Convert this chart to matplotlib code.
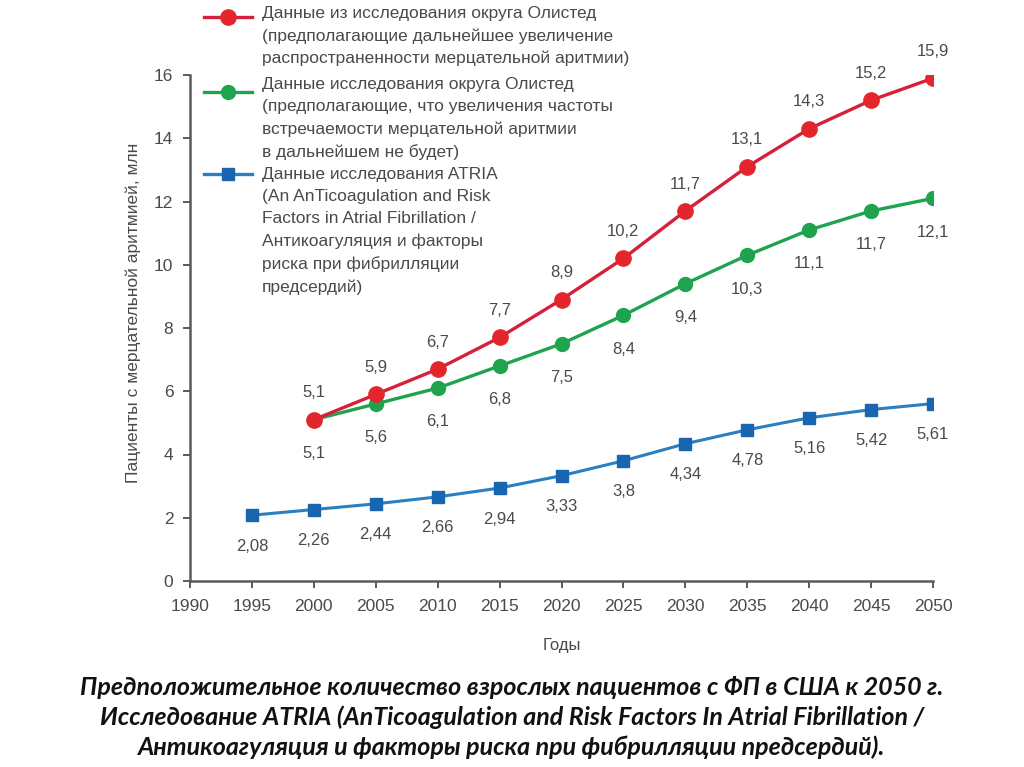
import matplotlib
matplotlib.use("Agg")
import matplotlib.pyplot as plt
from matplotlib.lines import Line2D
from matplotlib import font_manager

years_red = [2000, 2005, 2010, 2015, 2020, 2025, 2030, 2035, 2040, 2045, 2050]
red_vals = [5.1, 5.9, 6.7, 7.7, 8.9, 10.2, 11.7, 13.1, 14.3, 15.2, 15.9]
red_labels = ["5,1", "5,9", "6,7", "7,7", "8,9", "10,2", "11,7", "13,1", "14,3", "15,2", "15,9"]

years_green = [2000, 2005, 2010, 2015, 2020, 2025, 2030, 2035, 2040, 2045, 2050]
green_vals = [5.1, 5.6, 6.1, 6.8, 7.5, 8.4, 9.4, 10.3, 11.1, 11.7, 12.1]
green_labels = ["5,1", "5,6", "6,1", "6,8", "7,5", "8,4", "9,4", "10,3", "11,1", "11,7", "12,1"]

years_blue = [1995, 2000, 2005, 2010, 2015, 2020, 2025, 2030, 2035, 2040, 2045, 2050]
blue_vals = [2.08, 2.26, 2.44, 2.66, 2.94, 3.33, 3.8, 4.34, 4.78, 5.16, 5.42, 5.61]
blue_labels = ["2,08", "2,26", "2,44", "2,66", "2,94", "3,33", "3,8", "4,34", "4,78", "5,16", "5,42", "5,61"]

x_ticks = list(range(1990, 2051, 5))
y_ticks = [0, 2, 4, 6, 8, 10, 12, 14, 16]

legend_texts = [
    "Данные из исследования округа Олистед\n(предполагающие дальнейшее увеличение\nраспространенности мерцательной аритмии)",
    "Данные исследования округа Олистед\n(предполагающие, что увеличения частоты\nвстречаемости мерцательной аритмии\nв дальнейшем не будет)",
    "Данные исследования ATRIA\n(An AnTicoagulation and Risk\nFactors in Atrial Fibrillation /\nАнтикоагуляция и факторы\nриска при фибрилляции\nпредсердий)",
]

caption = ("Предположительное количество взрослых пациентов с ФП в США к 2050 г.\n"
           "Исследование ATRIA (AnTicoagulation and Risk Factors In Atrial Fibrillation /\n"
           "Антикоагуляция и факторы риска при фибрилляции предсердий).")

# pick a condensed font when one is installed
names = {f.name for f in font_manager.fontManager.ttflist}
if "Liberation Sans Narrow" in names:
    FAM = ["Liberation Sans Narrow", "DejaVu Sans"]
    k = 1.18
else:
    FAM = ["Liberation Sans", "DejaVu Sans"]
    k = 1.0

TXT = "#4a4a4a"
RED = "#e3262c"
RED_LINE = "#d42038"
GREEN = "#1fa34f"
BLUE = "#1865b0"
BLUE_LINE = "#2a7fc0"

plt.rcParams["font.family"] = FAM

fig = plt.figure(figsize=(10.24, 7.67), dpi=100)
ax = fig.add_axes([190 / 1024, 1 - 581 / 767, 743 / 1024, 506 / 767])

ax.plot(years_blue, blue_vals, color=BLUE_LINE, lw=2.2, marker="s", ms=9,
        mfc=BLUE, mec=BLUE, zorder=3)
ax.plot(years_green, green_vals, color=GREEN, lw=2.4, marker="o", ms=10,
        mfc=GREEN, mec=GREEN, zorder=3)
ax.plot(years_red, red_vals, color=RED_LINE, lw=2.4, marker="o", ms=11,
        mfc=RED, mec=RED, zorder=4)

lab_fs = 12 * k
for x, y, t in zip(years_red, red_vals, red_labels):
    ax.annotate(t, (x, y), xytext=(0, 14), textcoords="offset points",
                ha="center", va="bottom", fontsize=lab_fs, color=TXT)
for x, y, t in zip(years_green, green_vals, green_labels):
    ax.annotate(t, (x, y), xytext=(0, -19), textcoords="offset points",
                ha="center", va="top", fontsize=lab_fs, color=TXT)
for x, y, t in zip(years_blue, blue_vals, blue_labels):
    ax.annotate(t, (x, y), xytext=(0, -17), textcoords="offset points",
                ha="center", va="top", fontsize=lab_fs, color=TXT)

ax.set_xlim(1990, 2050)
ax.set_ylim(0, 16)
ax.set_xticks(x_ticks)
ax.set_yticks(y_ticks)
ax.set_xticklabels([str(v) for v in x_ticks])
ax.set_yticklabels([str(v) for v in y_ticks])
for s in ["top", "right"]:
    ax.spines[s].set_visible(False)
for s in ["left", "bottom"]:
    ax.spines[s].set_color("#5a5a5a")
    ax.spines[s].set_linewidth(1.8)
ax.tick_params(axis="both", colors="#5a5a5a", labelcolor=TXT, labelsize=12.5 * k,
               length=5, width=1.4, direction="out")
ax.tick_params(axis="x", pad=8)
ax.tick_params(axis="y", pad=7)
ax.set_xlabel("Годы", fontsize=12 * k, color=TXT, labelpad=17)
ax.set_ylabel("Пациенты с мерцательной аритмией, млн", fontsize=12.5 * k, color=TXT)
ax.yaxis.set_label_coords(-0.066, 0.53)

# legend (manual, handle aligned with the first text line)
handles = [
    (RED_LINE, RED, "o", 11, 17),
    (GREEN, GREEN, "o", 10, 92),
    (BLUE_LINE, BLUE, "s", 9, 174),
]
first_line_centers = [12, 83, 173]
leg_fs = 12.5 * k
for (lc, mc, mk, ms, yy), txt, cy in zip(handles, legend_texts, first_line_centers):
    fy = 1 - yy / 767
    fig.add_artist(Line2D([204 / 1024, 252 / 1024], [fy, fy], color=lc, lw=2.4,
                          transform=fig.transFigure))
    fig.add_artist(Line2D([228 / 1024], [fy], marker=mk, ms=ms, color=mc,
                          mfc=mc, mec=mc, lw=0, transform=fig.transFigure))
    fig.text(262 / 1024, 1 - (cy - 6) / 767, txt, ha="left", va="top",
             fontsize=leg_fs, color=TXT, linespacing=1.58)

fig.text(0.5, 1 - 676 / 767, caption, ha="center", va="top", fontsize=18,
         fontweight="bold", fontstyle="italic", color="#111111",
         family=["Lato", "DejaVu Sans"], linespacing=1.33)

fig.savefig("out.png", dpi=100, facecolor="white")
